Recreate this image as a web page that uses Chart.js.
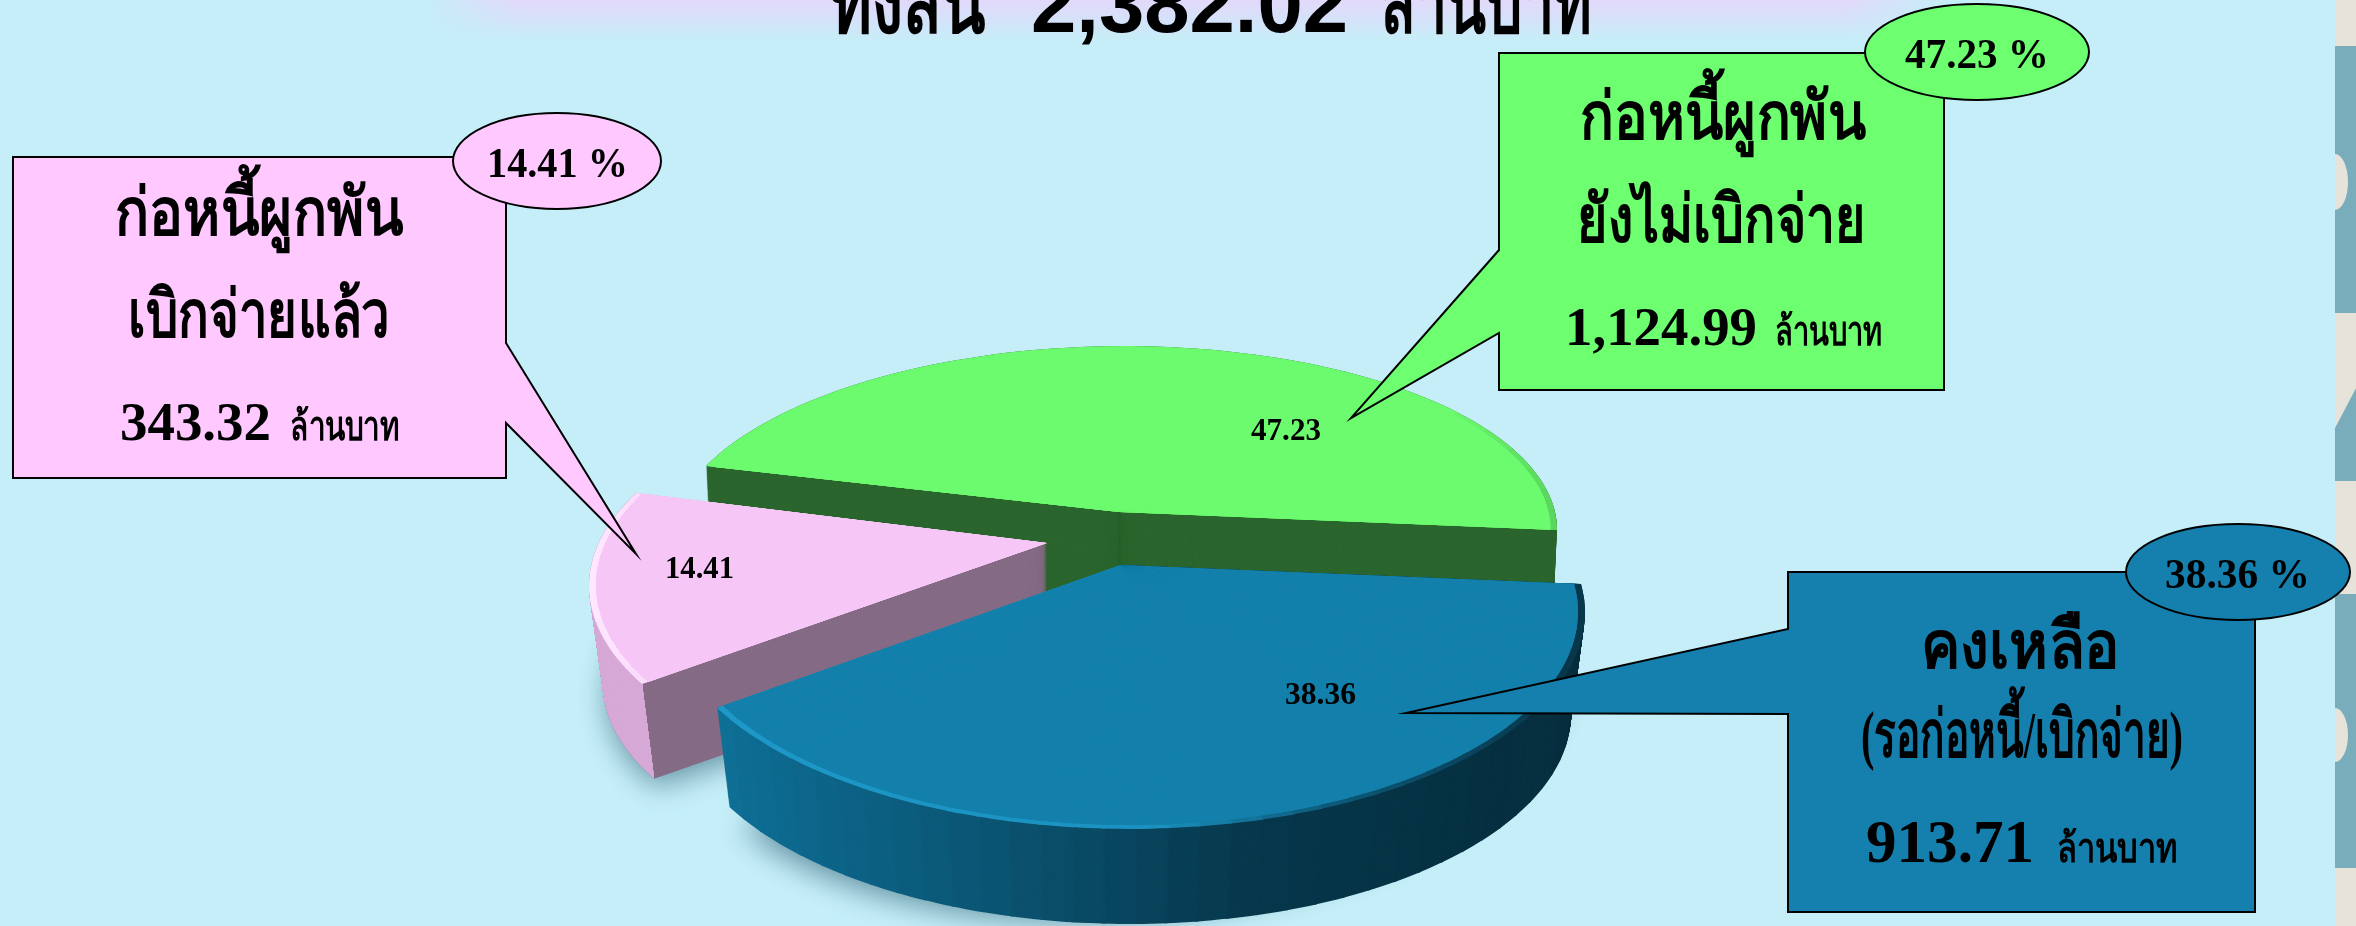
<!DOCTYPE html>
<html lang="th">
<head>
<meta charset="utf-8">
<title>ก่อหนี้ผูกพัน</title>
<script src="https://cdn.jsdelivr.net/npm/chart.js@4/dist/chart.umd.min.js"></script>
<style>
html, body { margin: 0; padding: 0; background: #c5eef8; overflow: hidden; }
canvas { display: block; }
</style>
</head>
<body>
<canvas id="budgetPie" width="2356" height="926"></canvas>
<script>
var categories = ["ก่อหนี้ผูกพันยังไม่เบิกจ่าย", "คงเหลือ (รอก่อหนี้/เบิกจ่าย)", "ก่อหนี้ผูกพันเบิกจ่ายแล้ว"];
var amounts = [1124.99, 913.71, 343.32];
var amountLabels = ["1,124.99", "913.71", "343.32"];
var percents = ["47.23", "38.36", "14.41"];
var topColors = ["#6cfb6f", "#1280ab", "#f6c6f7"];
var totalLabel = "2,382.02";
var unit = "ล้านบาท";
var serif = '"Liberation Serif", "Noto Sans", serif';

// how each slice sits on the page. the pie is seen in perspective so the apex is
// not the centre of the rim ellipse: rim gives the ellipse, from/to its angle range
// and ends the two exact spoke tips
var sliceViews = [
    {
        apex: [1119, 512], rim: [1112, 530, 445, 192], from: 204, to: 360,
        ends: [[706, 466], [1557, 530]], shadowMap: [420, 0, 0, 165],
        depth: 95, shift: 0, shrink: 0.01, wedges: 24
    },
    {
        apex: [1121, 565], rim: [1125, 610, 460, 220], from: -7.5, to: 152.5,
        ends: [[1581, 584], [717, 708]], shadowMap: [445, -12, -25, 240],
        depth: 103, shift: 0, shrink: 0.03, wedges: 40
    },
    {
        apex: [1047, 543], rim: [1050, 585, 461, 209], from: 152.3, to: 206.1,
        ends: [[642, 684], [636, 493]], shadowMap: [435, -14, -60, 210],
        depth: 99, shift: 0, shrink: 0.03, wedges: 12
    }
];

var callouts = [
    {
        fill: "#6dff70",
        outline: [[1499, 53], [1944, 53], [1944, 390], [1499, 390], [1499, 333], [1351, 418], [1499, 250]],
        oval: [1977, 52, 112, 48],
        ovalText: [1905, 68, 144],
        lines: [["ก่อหนี้ผูกพัน", 1580, 139, 286], ["ยังไม่เบิกจ่าย", 1577, 242, 289]],
        amount: [1565, 345, 192, 55],
        unitAt: [1775, 345, 107],
        label: [1251, 440, 70]
    },
    {
        fill: "#1580ae",
        outline: [[1788, 572], [2255, 572], [2255, 912], [1788, 912], [1788, 714], [1406, 713], [1788, 629]],
        oval: [2238, 572, 112, 48],
        ovalText: [2165, 588, 145],
        lines: [["คงเหลือ", 1921, 668, 199], ["(รอก่อหนี้/เบิกจ่าย)", 1861, 757, 322]],
        amount: [1866, 862, 168, 61],
        unitAt: [2057, 862, 120],
        label: [1285, 704, 71]
    },
    {
        fill: "#ffc9ff",
        outline: [[13, 157], [506, 157], [506, 343], [636, 554], [506, 423], [506, 478], [13, 478]],
        oval: [557, 161, 104, 48],
        ovalText: [487, 177, 141],
        lines: [["ก่อหนี้ผูกพัน", 115, 235, 288], ["เบิกจ่ายแล้ว", 128, 337, 262]],
        amount: [120, 440, 151, 55],
        unitAt: [290, 440, 109],
        label: [665, 578, 69]
    }
];

function colorAt(stops, x) {
    if (x <= stops[0][0]) return "rgb(" + stops[0][1] + ")";
    for (var i = 1; i < stops.length; i++) {
        if (x <= stops[i][0]) {
            var a = stops[i - 1], b = stops[i];
            var t = (x - a[0]) / (b[0] - a[0]);
            return "rgb(" + a[1].map(function (v, n) { return Math.round(v + (b[1][n] - v) * t); }).join(",") + ")";
        }
    }
    return "rgb(" + stops[stops.length - 1][1] + ")";
}

function rimPoint(view, f) {
    var r = view.rim;
    var deg = Math.PI / 180;
    var phi = (view.from + (view.to - view.from) * f) * deg;
    var p0 = view.from * deg, p1 = view.to * deg;
    // ellipse point, nudged so both ends land on the spoke tips
    var ex0 = view.ends[0][0] - (r[0] + r[2] * Math.cos(p0));
    var ey0 = view.ends[0][1] - (r[1] + r[3] * Math.sin(p0));
    var ex1 = view.ends[1][0] - (r[0] + r[2] * Math.cos(p1));
    var ey1 = view.ends[1][1] - (r[1] + r[3] * Math.sin(p1));
    return [
        r[0] + r[2] * Math.cos(phi) + ex0 * (1 - f) + ex1 * f,
        r[1] + r[3] * Math.sin(phi) + ey0 * (1 - f) + ey1 * f
    ];
}

function paintArc(ctx, arc, color) {
    var kept = arc.options;
    arc.options = Object.assign({}, kept, { backgroundColor: color, borderWidth: 0 });
    arc.draw(ctx);
    arc.options = kept;
}

// draws one level of the slice as a fan of small arcs, each with its own flattening
function drawFan(ctx, arc, view, t, scale, colorFn) {
    var start = arc.startAngle, end = arc.endAngle, circ = arc.circumference;
    var n = view.wedges;
    var s = (1 - view.shrink * t) * scale;
    var ax = view.apex[0], ay = view.apex[1];
    for (var k = 0; k < n; k++) {
        var a0 = start + (end - start) * k / n;
        var a1 = start + (end - start) * (k + 1) / n;
        var p0 = rimPoint(view, k / n), p1 = rimPoint(view, (k + 1) / n);
        var c0 = Math.cos(a0), s0 = Math.sin(a0), c1 = Math.cos(a1), s1 = Math.sin(a1);
        var det = c0 * s1 - c1 * s0;
        var x0 = p0[0] - ax, y0 = p0[1] - ay, x1 = p1[0] - ax, y1 = p1[1] - ay;
        var ma = (x0 * s1 - x1 * s0) / det, mc = (c0 * x1 - c1 * x0) / det;
        var mb = (y0 * s1 - y1 * s0) / det, md = (c0 * y1 - c1 * y0) / det;
        var over = k < n - 1 ? 0.006 : 0;
        var k2 = s / arc.outerRadius;

        arc.startAngle = a0;
        arc.endAngle = a1 + over;
        arc.circumference = a1 + over - a0;
        ctx.save();
        ctx.translate(ax + view.shift * t, ay + view.depth * t);
        ctx.transform(ma * k2, mb * k2, mc * k2, md * k2, 0, 0);
        ctx.translate(-arc.x, -arc.y);
        paintArc(ctx, arc, colorFn((p0[0] + p1[0]) / 2));
        ctx.restore();
    }
    arc.startAngle = start;
    arc.endAngle = end;
    arc.circumference = circ;
}

function drawShadow(ctx, arc, view) {
    var m = view.shadowMap;
    var k = 1 / arc.outerRadius;
    ctx.save();
    ctx.shadowColor = "rgba(0,50,70,0.5)";
    ctx.shadowBlur = 30;
    ctx.shadowOffsetY = 12;
    ctx.translate(view.apex[0] + view.shift, view.apex[1] + view.depth);
    ctx.transform(m[0] * k, m[1] * k, m[2] * k, m[3] * k, 0, 0);
    ctx.translate(-arc.x, -arc.y);
    paintArc(ctx, arc, "#888");
    ctx.restore();
}

function drawWall(ctx, arc, view, colorFn) {
    for (var y = view.depth; y >= 0; y--) {
        drawFan(ctx, arc, view, y / view.depth, 1, colorFn);
    }
}

function drawFace(ctx, arc, view, rimStops, faceColor) {
    var scales = [1, 0.995, 0.99, 0.985, 0.985];
    var alphas = [1, 0.7, 0.4, 1, 1];
    for (var i = 0; i < scales.length; i++) {
        ctx.save();
        ctx.globalAlpha = alphas[i];
        drawFan(ctx, arc, view, 0, scales[i], i >= 3 ? function () { return faceColor; } : function (x) { return colorAt(rimStops, x); });
        ctx.restore();
    }
}

function solid(color) {
    return function () { return color; };
}

var slicePlugin = {
    id: "slice3d",
    beforeDatasetDraw: function (chart) {
        var ctx = chart.ctx;
        var arcs = chart.getDatasetMeta(0).data;
        var green = arcs[0], blue = arcs[1], pink = arcs[2];

        drawWall(ctx, green, sliceViews[0], solid("#2b652e"));
        drawFace(ctx, green, sliceViews[0], [[1450, [108, 251, 111]], [1557, [90, 215, 94]]], topColors[0]);

        // pink wall: cut side first, then the rim left of the front corner
        var view = sliceViews[2];
        drawShadow(ctx, pink, view);
        drawWall(ctx, pink, view, solid("#856b85"));
        var corner = view.ends[0];
        var foot = [
            view.apex[0] + (corner[0] - view.apex[0]) * (1 - view.shrink) + view.shift,
            view.apex[1] + (corner[1] - view.apex[1]) * (1 - view.shrink) + view.depth
        ];
        ctx.save();
        ctx.beginPath();
        ctx.moveTo(400, 300);
        ctx.lineTo(corner[0], 300);
        ctx.lineTo(corner[0], corner[1]);
        ctx.lineTo(foot[0], foot[1]);
        ctx.lineTo(foot[0], 926);
        ctx.lineTo(400, 926);
        ctx.closePath();
        ctx.clip();
        drawWall(ctx, pink, view, solid("#d6a9d6"));
        ctx.restore();
        drawFace(ctx, pink, view, [[590, [255, 232, 255]], [650, [251, 216, 251]]], topColors[2]);

        // blue wall goes dark to the right
        drawShadow(ctx, blue, sliceViews[1]);
        drawWall(ctx, blue, sliceViews[1], function (x) {
            return colorAt([[720, [15, 111, 150]], [1000, [11, 84, 114]], [1250, [7, 56, 76]], [1580, [6, 46, 62]]], x);
        });
        drawFace(ctx, blue, sliceViews[1], [[720, [30, 152, 200]], [1150, [28, 146, 192]], [1330, [14, 90, 122]], [1560, [8, 56, 76]]], topColors[1]);
        return false;
    },
    beforeDraw: function (chart) {
        drawBackdrop(chart.ctx);
    },
    afterDraw: function (chart) {
        var ctx = chart.ctx;
        drawTitle(ctx);
        for (var i = 0; i < callouts.length; i++) {
            drawCallout(ctx, callouts[i], i);
        }
    }
};

function drawBackdrop(ctx) {
    ctx.fillStyle = "#c5eef8";
    ctx.fillRect(0, 0, 2356, 926);

    var band = ctx.createLinearGradient(0, 0, 0, 42);
    band.addColorStop(0, "#e3d8fa");
    band.addColorStop(1, "rgba(227,216,250,0)");
    ctx.fillStyle = band;
    ctx.fillRect(430, 0, 1510, 42);
    var sideL = ctx.createLinearGradient(420, 0, 520, 0);
    sideL.addColorStop(0, "#c5eef8");
    sideL.addColorStop(1, "rgba(197,238,248,0)");
    ctx.fillStyle = sideL;
    ctx.fillRect(420, 0, 100, 42);
    var sideR = ctx.createLinearGradient(1945, 0, 1845, 0);
    sideR.addColorStop(0, "#c5eef8");
    sideR.addColorStop(1, "rgba(197,238,248,0)");
    ctx.fillStyle = sideR;
    ctx.fillRect(1845, 0, 100, 42);

    // patterned edge of the slide
    ctx.fillStyle = "#7aadbc";
    ctx.fillRect(2335, 0, 21, 926);
    ctx.fillStyle = "#e6e3da";
    ctx.save();
    ctx.beginPath();
    ctx.rect(2335, 0, 21, 926);
    ctx.clip();
    ctx.fillRect(2335, 0, 21, 46);
    ctx.beginPath();
    ctx.ellipse(2335, 182, 13, 28, 0, 0, Math.PI * 2);
    ctx.fill();
    ctx.beginPath();
    ctx.moveTo(2335, 313);
    ctx.lineTo(2356, 313);
    ctx.lineTo(2356, 388);
    ctx.quadraticCurveTo(2342, 415, 2335, 428);
    ctx.fill();
    ctx.fillRect(2335, 481, 21, 113);
    ctx.beginPath();
    ctx.ellipse(2335, 735, 13, 27, 0, 0, Math.PI * 2);
    ctx.fill();
    ctx.fillRect(2335, 868, 21, 58);
    ctx.restore();
}

function fitText(ctx, str, x, baseline, font, width) {
    ctx.save();
    ctx.font = font;
    ctx.textAlign = "left";
    ctx.textBaseline = "alphabetic";
    ctx.fillStyle = "#000";
    var w = ctx.measureText(str).width;
    ctx.translate(x, baseline);
    ctx.scale(width / w, 1);
    ctx.fillText(str, 0, 0);
    ctx.restore();
}

function drawTitle(ctx) {
    var sans = '"Liberation Sans", "Noto Sans", sans-serif';
    fitText(ctx, "ทั้งสิ้น", 830, 32, "bold 82px " + sans, 155);
    fitText(ctx, totalLabel, 1031, 32, "bold 81px " + sans, 317);
    fitText(ctx, unit, 1380, 32, "bold 82px " + sans, 212);
}

function drawCallout(ctx, box, i) {
    ctx.save();
    ctx.beginPath();
    box.outline.forEach(function (p, n) {
        if (n == 0) ctx.moveTo(p[0], p[1]);
        else ctx.lineTo(p[0], p[1]);
    });
    ctx.closePath();
    ctx.fillStyle = box.fill;
    ctx.fill();
    ctx.strokeStyle = "#000";
    ctx.lineWidth = 2;
    ctx.lineJoin = "miter";
    ctx.stroke();
    ctx.beginPath();
    ctx.ellipse(box.oval[0], box.oval[1], box.oval[2], box.oval[3], 0, 0, Math.PI * 2);
    ctx.fill();
    ctx.stroke();
    ctx.restore();

    fitText(ctx, percents[i] + " %", box.ovalText[0], box.ovalText[1], "bold 42px " + serif, box.ovalText[2]);
    box.lines.forEach(function (l) {
        fitText(ctx, l[0], l[1], l[2], "bold 66px " + serif, l[3]);
    });
    fitText(ctx, amountLabels[i], box.amount[0], box.amount[1], "bold " + box.amount[3] + "px " + serif, box.amount[2]);
    fitText(ctx, unit, box.unitAt[0], box.unitAt[1], "bold 40px " + serif, box.unitAt[2]);
    fitText(ctx, percents[i], box.label[0], box.label[1], "bold 31px " + serif, box.label[2]);
}

var ctx = document.getElementById("budgetPie").getContext("2d");
var budgetPie = new Chart(ctx, {
    type: "pie",
    data: {
        labels: categories,
        datasets: [{ data: amounts, backgroundColor: topColors, borderWidth: 0 }]
    },
    options: {
        responsive: false,
        animation: false,
        rotation: 287,
        layout: { padding: 0 },
        plugins: { legend: { display: false }, tooltip: { enabled: false } }
    },
    plugins: [slicePlugin]
});
</script>
</body>
</html>
